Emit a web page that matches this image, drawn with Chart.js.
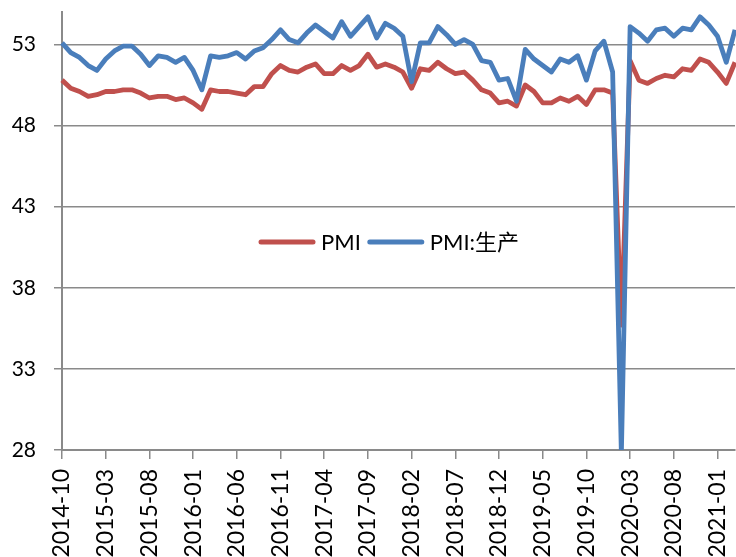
<!DOCTYPE html>
<html>
<head>
<meta charset="utf-8">
<script src="https://cdn.jsdelivr.net/npm/chart.js@4"></script>
<style>
html,body{margin:0;padding:0;background:#fff;overflow:hidden;}
canvas{display:block;}
</style>
</head>
<body>
<canvas id="c" width="736" height="557"></canvas>
<script>
const months = [
 "2014-10","2014-11","2014-12",
 "2015-01","2015-02","2015-03","2015-04","2015-05","2015-06","2015-07","2015-08","2015-09","2015-10","2015-11","2015-12",
 "2016-01","2016-02","2016-03","2016-04","2016-05","2016-06","2016-07","2016-08","2016-09","2016-10","2016-11","2016-12",
 "2017-01","2017-02","2017-03","2017-04","2017-05","2017-06","2017-07","2017-08","2017-09","2017-10","2017-11","2017-12",
 "2018-01","2018-02","2018-03","2018-04","2018-05","2018-06","2018-07","2018-08","2018-09","2018-10","2018-11","2018-12",
 "2019-01","2019-02","2019-03","2019-04","2019-05","2019-06","2019-07","2019-08","2019-09","2019-10","2019-11","2019-12",
 "2020-01","2020-02","2020-03","2020-04","2020-05","2020-06","2020-07","2020-08","2020-09","2020-10","2020-11","2020-12",
 "2021-01","2021-02","2021-03"
];
const pmi = [
 50.8,50.3,50.1,
 49.8,49.9,50.1,50.1,50.2,50.2,50.0,49.7,49.8,49.8,49.6,49.7,
 49.4,49.0,50.2,50.1,50.1,50.0,49.9,50.4,50.4,51.2,51.7,51.4,
 51.3,51.6,51.8,51.2,51.2,51.7,51.4,51.7,52.4,51.6,51.8,51.6,
 51.3,50.3,51.5,51.4,51.9,51.5,51.2,51.3,50.8,50.2,50.0,49.4,
 49.5,49.2,50.5,50.1,49.4,49.4,49.7,49.5,49.8,49.3,50.2,50.2,
 50.0,35.7,52.0,50.8,50.6,50.9,51.1,51.0,51.5,51.4,52.1,51.9,
 51.3,50.6,51.9
];
const pmiProduction = [
 53.1,52.5,52.2,
 51.7,51.4,52.1,52.6,52.9,52.9,52.4,51.7,52.3,52.2,51.9,52.2,
 51.4,50.2,52.3,52.2,52.3,52.5,52.1,52.6,52.8,53.3,53.9,53.3,
 53.1,53.7,54.2,53.8,53.4,54.4,53.5,54.1,54.7,53.4,54.3,54.0,
 53.5,50.7,53.1,53.1,54.1,53.6,53.0,53.3,53.0,52.0,51.9,50.8,
 50.9,49.5,52.7,52.1,51.7,51.3,52.1,51.9,52.3,50.8,52.6,53.2,
 51.3,27.8,54.1,53.7,53.2,53.9,54.0,53.5,54.0,53.9,54.7,54.2,
 53.5,51.9,53.9
];
const seriesNames = ["PMI", "PMI:生产"];
const yTicks = [28, 33, 38, 43, 48, 53];

const FONT = "Lato, 'Noto Sans CJK SC', sans-serif";
const GRID = '#8a8a8a';

function noPad(s) { s.paddingTop = 0; s.paddingBottom = 0; s.paddingLeft = 0; s.paddingRight = 0; }

const innerLegend = {
  id: 'innerLegend',
  afterDatasetsDraw(chart, args, opts) {
    const ctx = chart.ctx;
    ctx.save();
    ctx.font = opts.fontSize + 'px ' + FONT;
    ctx.textBaseline = 'middle';
    ctx.textAlign = 'left';
    let x = opts.x;
    const y = opts.y;
    chart.data.datasets.forEach(ds => {
      ctx.strokeStyle = ds.borderColor;
      ctx.lineWidth = opts.lineWidth;
      ctx.lineCap = 'round';
      ctx.beginPath();
      ctx.moveTo(x, y);
      ctx.lineTo(x + opts.sample, y);
      ctx.stroke();
      x += opts.sample + opts.gap;
      ctx.fillStyle = '#000';
      ctx.fillText(ds.label, x, y + 1);
      x += ctx.measureText(ds.label).width + opts.itemGap;
    });
    ctx.restore();
  }
};

new Chart(document.getElementById('c'), {
  type: 'line',
  data: {
    labels: months,
    datasets: [
      { label: seriesNames[0], data: pmi, borderColor: '#C0504D', backgroundColor: '#C0504D',
        borderWidth: 4.8, pointRadius: 0, tension: 0, borderJoinStyle: 'round', order: 1,
        clip: {left: 6, right: 6, top: 6, bottom: 0} },
      { label: seriesNames[1], data: pmiProduction, borderColor: '#4A7EBB', backgroundColor: '#4A7EBB',
        borderWidth: 4.8, pointRadius: 0, tension: 0, borderJoinStyle: 'round', order: 0,
        clip: {left: 6, right: 6, top: 6, bottom: 0} }
    ]
  },
  options: {
    responsive: false,
    animation: false,
    devicePixelRatio: 1,
    layout: { padding: { top: 12, right: 1, left: 0, bottom: 0 } },
    plugins: {
      legend: { display: false },
      tooltip: { enabled: false },
      innerLegend: { x: 261, y: 242, sample: 52, gap: 8, itemGap: 9, lineWidth: 5, fontSize: 22 }
    },
    scales: {
      x: {
        type: 'category',
        offset: false,
        afterFit(s) { s.height = 107; noPad(s); },
        grid: { display: true, drawOnChartArea: false, drawTicks: true, tickLength: 9, color: GRID, lineWidth: 1.5 },
        border: { display: true, color: GRID, width: 2 },
        ticks: {
          autoSkip: false, minRotation: 90, maxRotation: 90, padding: 10,
          color: '#000', font: { family: FONT, size: 23 },
          callback(v, i) { return i % 5 === 0 ? months[i] : null; }
        }
      },
      y: {
        min: 28, max: 55,
        afterFit(s) { s.width = 62; noPad(s); },
        afterBuildTicks(s) { s.ticks = yTicks.map(v => ({ value: v })); },
        grid: { color: GRID, lineWidth: 1.5, tickLength: 8, drawTicks: true },
        border: { display: true, color: GRID, width: 2 },
        ticks: { color: '#000', padding: 18, font: { family: FONT, size: 21 } }
      }
    }
  },
  plugins: [innerLegend]
});
</script>
</body>
</html>
